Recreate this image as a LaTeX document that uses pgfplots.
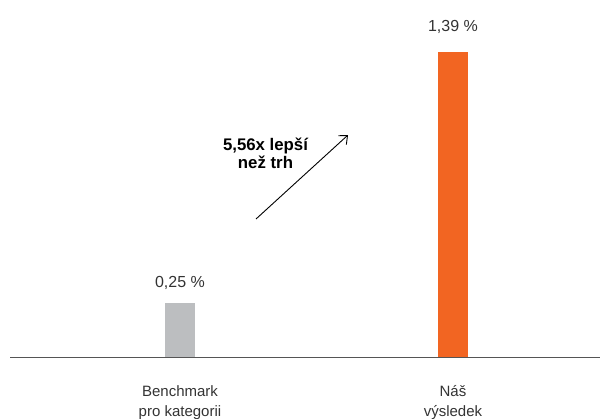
\documentclass[border=0pt]{standalone}
\usepackage{pgfplots}
\pgfplotsset{compat=1.18}
\usetikzlibrary{arrows.meta}
\usepackage{fontspec}
\setmainfont{Liberation Sans}
\definecolor{txt}{HTML}{333333}
\definecolor{barg}{HTML}{BCBEC0}
\definecolor{baro}{HTML}{F26522}
\definecolor{basel}{HTML}{555555}
\begin{document}
\begin{tikzpicture}
\useasboundingbox (-10pt,-61pt) rectangle (592pt,358pt);
\begin{axis}[
  scale only axis, width=590pt, height=358pt,
  xmin=-0.6227, xmax=1.5385, ymin=0, ymax=1.6273,
  axis lines=none, clip=false,
  ybar, bar width=30pt, bar shift=0pt,
  xtick=\empty, ytick=\empty,
]
\addplot[fill=barg, draw=none] coordinates {(0,0.25)};
\addplot[fill=baro, draw=none] coordinates {(1,1.39)};
\draw[basel, line width=1pt] (axis cs:-0.6227,0) -- (axis cs:1.5385,0);
\node[txt, font=\fontsize{16}{19}\selectfont, anchor=base] at (axis cs:0,0.3227) {0,25 \%};
\node[txt, font=\fontsize{16}{19}\selectfont, anchor=base] at (axis cs:1,1.483) {1,39 \%};
\node[txt, font=\fontsize{15}{20}\selectfont, align=center, anchor=base] at (axis cs:0,-0.2682) {Benchmark\\pro kategorii};
\node[txt, font=\fontsize{15}{20}\selectfont, align=center, anchor=base] at (axis cs:1,-0.2682) {Náš\\výsledek};
\node[black, font=\bfseries\fontsize{16.8}{18}\selectfont, align=center, anchor=base] at (axis cs:0.3132,0.8636) {5,56x lepší\\než trh};
\draw[black, line width=0.9pt, -{Straight Barb[length=7pt,width=12pt]}] (axis cs:0.2784,0.6318) -- (axis cs:0.6154,1.0136);
\end{axis}
\end{tikzpicture}
\end{document}
